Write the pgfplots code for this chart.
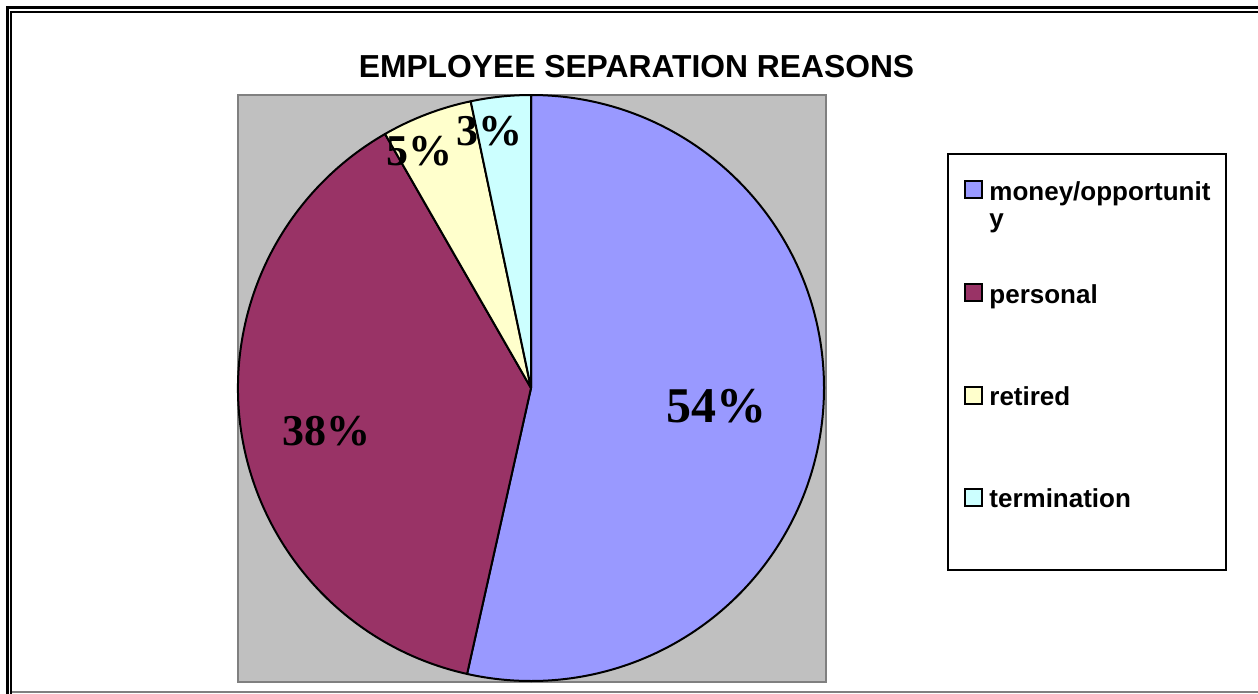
\documentclass[border=0pt]{standalone}
\usepackage{pgfplots}
\pgfplotsset{compat=1.18}
\usepackage{pgfplotstable}
\usepackage{fontspec}
\setmainfont{Liberation Sans}
\newfontfamily\tnr{Liberation Serif}
\definecolor{pmoney}{HTML}{9999FF}
\definecolor{ppersonal}{HTML}{993366}
\definecolor{pretired}{HTML}{FFFFCC}
\definecolor{pterm}{HTML}{CCFFFF}
\definecolor{plotgray}{HTML}{C0C0C0}
\definecolor{darkgray808}{HTML}{808080}

% value, colour, label position (px, y downwards), label size (pt)
\pgfplotstableread{
value col lx ly fs
53.5 pmoney 716 422 25
38.2 ppersonal 326 445 22
5.0 pretired 419 165 22
3.3 pterm 489 145 22
}\piedata

\begin{document}
\begin{tikzpicture}
\begin{axis}[width=629pt,height=346.5pt,scale only axis,
  xmin=0,xmax=1258,ymin=0,ymax=693,y dir=reverse,
  hide axis,clip=false]
% outer frame
\draw[line width=1.5pt] (axis cs:7.5,700) -- (axis cs:7.5,7.5) -- (axis cs:1265,7.5);
\draw[line width=1pt] (axis cs:11,700) -- (axis cs:11,12) -- (axis cs:1265,12);
\draw[line width=1pt,darkgray808] (axis cs:12,691.5) -- (axis cs:1265,691.5);
% plot area
\filldraw[fill=plotgray,draw=darkgray808,line width=1pt] (axis cs:237.5,94.5) rectangle (axis cs:825.5,681.5);
% slices
\gdef\cum{0}
\pgfplotsinvokeforeach{0,...,3}{%
  \pgfplotstablegetelem{#1}{value}\of\piedata
  \let\pval\pgfplotsretval
  \pgfplotstablegetelem{#1}{col}\of\piedata
  \let\pcol\pgfplotsretval
  \pgfmathsetmacro{\va}{90-3.6*\cum}%
  \pgfmathsetmacro{\vb}{90-3.6*(\cum+\pval)}%
  \pgfmathsetmacro{\nc}{\cum+\pval}%
  \xdef\cum{\nc}%
  \edef\doit{\noexpand\filldraw[fill=\pcol,draw=black,line width=1pt,line join=round] (axis cs:531,388) -- ++(\va:146.5pt) arc[start angle=\va,end angle=\vb,radius=146.5pt] -- cycle;}%
  \doit
}
% labels
\pgfplotsinvokeforeach{0,...,3}{%
  \pgfplotstablegetelem{#1}{value}\of\piedata
  \pgfmathtruncatemacro{\pct}{round(\pgfplotsretval)}%
  \pgfplotstablegetelem{#1}{lx}\of\piedata
  \let\plx\pgfplotsretval
  \pgfplotstablegetelem{#1}{ly}\of\piedata
  \let\ply\pgfplotsretval
  \pgfplotstablegetelem{#1}{fs}\of\piedata
  \let\pfs\pgfplotsretval
  \edef\doit{\noexpand\node[anchor=base,inner sep=0pt] at (axis cs:\plx,\ply) {\noexpand\tnr\noexpand\bfseries\noexpand\fontsize{\pfs pt}{\pfs pt}\noexpand\selectfont \pct\noexpand\%};}%
  \doit
}
% title
\node[anchor=base,inner sep=0pt] at (axis cs:636.5,77) {\fontsize{15.9pt}{19pt}\selectfont\bfseries EMPLOYEE SEPARATION REASONS};
% legend
\draw[line width=1pt] (axis cs:948,153.5) rectangle (axis cs:1226,570);
\filldraw[fill=pmoney,draw=black,line width=1pt] (axis cs:965,181) rectangle (axis cs:982,198);
\filldraw[fill=ppersonal,draw=black,line width=1pt] (axis cs:965,284) rectangle (axis cs:982,301);
\filldraw[fill=pretired,draw=black,line width=1pt] (axis cs:965,387) rectangle (axis cs:982,404);
\filldraw[fill=pterm,draw=black,line width=1pt] (axis cs:965,489) rectangle (axis cs:982,506);
\node[anchor=base west,inner sep=0pt] at (axis cs:989,200) {\fontsize{13pt}{15pt}\selectfont\bfseries money/opportunit};
\node[anchor=base west,inner sep=0pt] at (axis cs:989,227) {\fontsize{13pt}{15pt}\selectfont\bfseries y};
\node[anchor=base west,inner sep=0pt] at (axis cs:989,303) {\fontsize{13pt}{15pt}\selectfont\bfseries personal};
\node[anchor=base west,inner sep=0pt] at (axis cs:989,405) {\fontsize{13pt}{15pt}\selectfont\bfseries retired};
\node[anchor=base west,inner sep=0pt] at (axis cs:989,507) {\fontsize{13pt}{15pt}\selectfont\bfseries termination};
\end{axis}
\pgfresetboundingbox
\path (current axis.south west) rectangle (current axis.north east);
\end{tikzpicture}
\end{document}
